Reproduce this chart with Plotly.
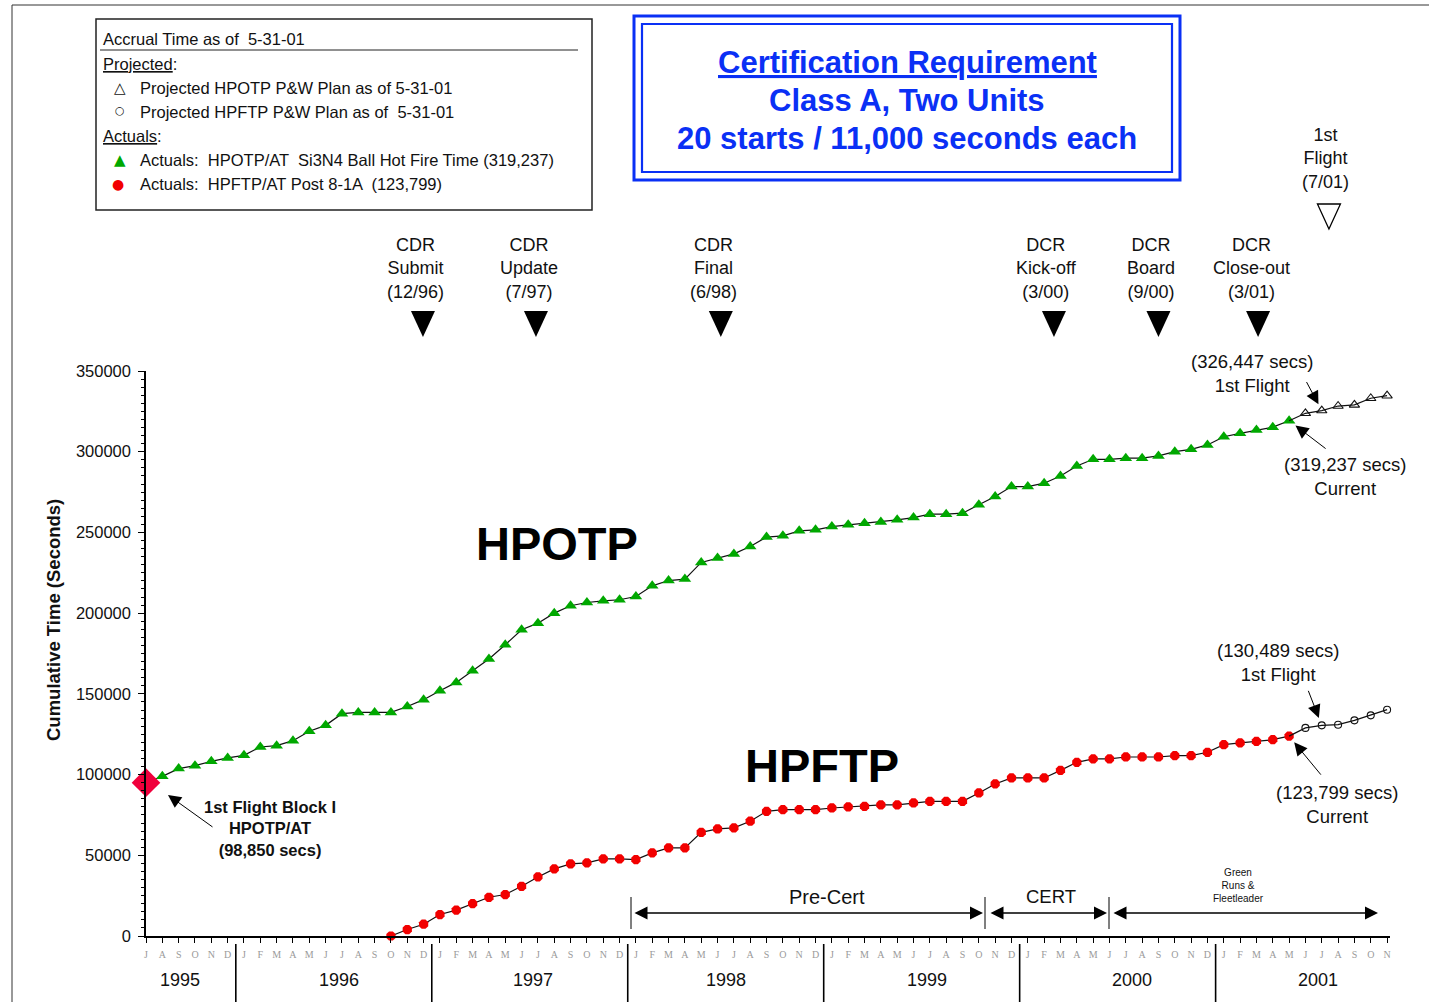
import plotly.graph_objects as go

# ---------------- data ----------------
month_letters = (['J', 'A', 'S', 'O', 'N', 'D'] +
                 ['J', 'F', 'M', 'A', 'M', 'J', 'J', 'A', 'S', 'O', 'N', 'D'] * 5 +
                 ['J', 'F', 'M', 'A', 'M', 'J', 'J', 'A', 'S', 'O', 'N'])
month_index = list(range(len(month_letters)))          # 0 = Jul 1995
years = ['1995', '1996', '1997', '1998', '1999', '2000', '2001']
year_label_month = [2.1, 11.8, 23.7, 35.5, 47.8, 60.4, 71.8]
year_boundaries = [5.5, 17.5, 29.5, 41.5, 53.5, 65.5]

start_month = 0
start_value = 95000  # 1st Flight Block I HPOTP/AT

hpotp_months = list(range(1, 71))
hpotp_actual_k = [98.9, 103.7, 105.5, 108.2, 110.3, 111.9, 117.1, 117.9, 121.0, 126.8,
                  130.5, 137.7, 138.5, 138.5, 138.5, 142.2, 146.4, 151.9, 157.1, 164.3,
                  171.6, 180.4, 189.7, 193.8, 200.0, 204.6, 206.6, 207.6, 208.3, 210.3,
                  216.9, 220.2, 221.1, 231.4, 234.1, 236.7, 241.3, 247.1, 247.9, 251.0,
                  251.6, 253.6, 254.7, 255.7, 256.5, 257.8, 259.2, 261.3, 261.3, 261.9,
                  267.1, 272.2, 278.4, 278.4, 280.5, 285.0, 291.2, 295.3, 295.3, 296.0,
                  296.0, 297.4, 300.0, 301.5, 304.2, 309.3, 311.4, 313.5, 315.2, 319.2]
hpotp_proj_months = [71, 72, 73, 74, 75, 76]
hpotp_proj_k = [323.8, 325.5, 328.3, 329.0, 333.1, 334.7]

hpftp_months = list(range(15, 71))
hpftp_actual_k = [0.0, 4.0, 7.3, 13.3, 16.0, 20.1, 24.0, 25.7, 30.8, 36.6,
                  41.6, 44.7, 45.3, 47.8, 47.8, 47.3, 51.5, 54.6, 54.6, 64.2,
                  66.3, 67.0, 71.1, 77.2, 78.3, 78.3, 78.3, 79.3, 80.0, 80.3,
                  81.2, 81.2, 82.4, 83.4, 83.4, 83.4, 88.6, 94.2, 97.9, 97.9,
                  97.9, 102.6, 107.6, 109.7, 109.7, 110.9, 110.9, 110.9, 111.7, 111.7,
                  113.8, 118.5, 119.6, 120.6, 121.6, 123.8]
hpftp_proj_months = [71, 72, 73, 74, 75, 76]
hpftp_proj_k = [128.9, 130.5, 130.9, 133.6, 136.7, 140.2]

milestone_labels = ['CDR<br>Submit<br>(12/96)', 'CDR<br>Update<br>(7/97)', 'CDR<br>Final<br>(6/98)',
                    'DCR<br>Kick-off<br>(3/00)', 'DCR<br>Board<br>(9/00)', 'DCR<br>Close-out<br>(3/01)']
milestone_month = [16.96, 23.88, 35.2, 55.6, 62.0, 68.1]
first_flight_month = 72.44

hpotp_actual = [v * 1000 for v in hpotp_actual_k]
hpotp_proj = [v * 1000 for v in hpotp_proj_k]
hpftp_actual = [v * 1000 for v in hpftp_actual_k]
hpftp_proj = [v * 1000 for v in hpftp_proj_k]

# ---------------- geometry helpers (layout only) ----------------
L, R_M, T_M, B_M = 146, 39, 371, 66
W, H = 1429, 1002
PW, PH = W - L - R_M, H - T_M - B_M
PX_PER_MONTH = 16.33
XMAX = PW / PX_PER_MONTH
YMAX = 350000


def xp(px):  # pixel -> paper x
    return (px - L) / PW


def yp(py):  # pixel -> paper y
    return (H - B_M - py) / PH


def xd(px):  # pixel -> data x
    return (px - L) / PW * XMAX


def yd(py):  # pixel -> data y
    return (H - B_M - py) / PH * YMAX


def mp(m):  # month -> pixel x
    return L + m * PX_PER_MONTH


FONT = 'Liberation Sans, Arial, sans-serif'
GREEN = '#00a800'
RED = '#f20000'
BLUE = '#0a30f5'

fig = go.Figure()

fig.add_trace(go.Scatter(x=[start_month] + hpotp_months, y=[start_value] + hpotp_actual,
                         mode='lines', line=dict(color='#111', width=1.2), cliponaxis=False,
                         hoverinfo='skip'))
fig.add_trace(go.Scatter(x=hpotp_months, y=hpotp_actual, mode='markers',
                         marker=dict(symbol='triangle-up', size=11, color=GREEN, line=dict(width=0)),
                         cliponaxis=False))
fig.add_trace(go.Scatter(x=[hpotp_months[-1]] + hpotp_proj_months, y=[hpotp_actual[-1]] + hpotp_proj,
                         mode='lines', line=dict(color='#111', width=1.2), cliponaxis=False))
fig.add_trace(go.Scatter(x=hpotp_proj_months, y=hpotp_proj, mode='markers',
                         marker=dict(symbol='triangle-up-open', size=9, color='#111', line=dict(width=1.1)),
                         cliponaxis=False))

fig.add_trace(go.Scatter(x=hpftp_months, y=hpftp_actual, mode='lines+markers',
                         line=dict(color='#111', width=1.2),
                         marker=dict(symbol='octagon', size=10, color=RED, line=dict(width=0)),
                         cliponaxis=False))
fig.add_trace(go.Scatter(x=[hpftp_months[-1]] + hpftp_proj_months, y=[hpftp_actual[-1]] + hpftp_proj,
                         mode='lines', line=dict(color='#111', width=1.2), cliponaxis=False))
fig.add_trace(go.Scatter(x=hpftp_proj_months, y=hpftp_proj, mode='markers',
                         marker=dict(symbol='circle-open', size=7, color='#111', line=dict(width=1.1)),
                         cliponaxis=False))

fig.add_trace(go.Scatter(x=[start_month], y=[start_value], mode='markers',
                         marker=dict(symbol='diamond', size=22, color='#f0003c', line=dict(width=0)),
                         cliponaxis=False))

ann = []
shapes = []


def txt(px, py, text, size, color='#111', family=FONT, xanchor='center', **kw):
    ann.append(dict(x=xp(px), y=yp(py), xref='paper', yref='paper', text=text, showarrow=False,
                    xanchor=xanchor, yanchor='middle', font=dict(family=family, size=size, color=color),
                    **kw))


def tri_down(cx, top, bottom, hw, fill, lw=0):
    path = 'M {} {} L {} {} L {} {} Z'.format(xp(cx - hw), yp(top), xp(cx + hw), yp(top), xp(cx), yp(bottom))
    shapes.append(dict(type='path', xref='paper', yref='paper', path=path, fillcolor=fill,
                       line=dict(color='black', width=lw)))


# milestones
for lab, m in zip(milestone_labels, milestone_month):
    cx = mp(m)
    tri_down(cx, 311, 337, 12, 'black', 0)
    txt(cx - 7, 268, lab, 18, align='center')
tri_down(mp(first_flight_month), 204, 229, 11.5, 'white', 1.3)
txt(mp(first_flight_month) - 3, 159, '1st<br>Flight<br>(7/01)', 18, align='center')

# big series labels
txt(557, 543, '<b>HPOTP</b>', 47, color='black')
txt(822, 765, '<b>HPFTP</b>', 47, color='black')

# start annotation
txt(270, 828, '<b>1st Flight Block I<br>HPOTP/AT<br>(98,850 secs)</b>', 16.5, align='center')
ann.append(dict(x=xd(168), y=yd(795), xref='x', yref='y', text='', showarrow=True, ax=46, ay=33,
                arrowhead=2, arrowsize=2.6, arrowwidth=1, arrowcolor='black'))

# right-side callouts
txt(1252, 373, '(326,447 secs)<br>1st Flight', 18.5, align='center')
ann.append(dict(x=hpotp_proj_months[1], y=hpotp_proj[1], xref='x', yref='y', text='', showarrow=True,
                ax=-16, ay=-30, standoff=7, arrowhead=2, arrowsize=2.6, arrowwidth=1, arrowcolor='black'))
txt(1345, 476, '(319,237 secs)<br>Current', 18.5, align='center')
ann.append(dict(x=hpotp_months[-1], y=hpotp_actual[-1], xref='x', yref='y', text='', showarrow=True,
                ax=38, ay=29, standoff=8, arrowhead=2, arrowsize=2.6, arrowwidth=1, arrowcolor='black'))
txt(1278, 662, '(130,489 secs)<br>1st Flight', 18.5, align='center')
ann.append(dict(x=hpftp_proj_months[1], y=hpftp_proj[1], xref='x', yref='y', text='', showarrow=True,
                ax=-14, ay=-36, standoff=8, arrowhead=2, arrowsize=2.6, arrowwidth=1, arrowcolor='black'))
txt(1337, 804, '(123,799 secs)<br>Current', 18.5, align='center')
ann.append(dict(x=hpftp_months[-1], y=hpftp_actual[-1], xref='x', yref='y', text='', showarrow=True,
                ax=33, ay=40, standoff=8, arrowhead=2, arrowsize=2.6, arrowwidth=1, arrowcolor='black'))

# phase arrows
phase_y = yd(913)
for (a, b) in [(633, 983), (989, 1107), (1112, 1378)]:
    ann.append(dict(x=xd(b), y=phase_y, ax=xd(a), ay=phase_y, xref='x', yref='y', axref='x', ayref='y',
                    text='', showarrow=True, arrowside='end+start', arrowhead=2, arrowsize=2.0,
                    arrowwidth=1.3, arrowcolor='black'))
for bx in [631, 985, 1109]:
    shapes.append(dict(type='line', xref='paper', yref='paper', x0=xp(bx), x1=xp(bx), y0=yp(897), y1=yp(929),
                       line=dict(color='black', width=1)))
txt(827, 897, 'Pre-Cert', 20)
txt(1051, 896, 'CERT', 18.5)
txt(1238, 885, 'Green<br>Runs &amp;<br>Fleetleader', 10, align='center')

# year labels and separators
for yr, m in zip(years, year_label_month):
    txt(mp(m), 980, yr, 18)
for m in year_boundaries:
    shapes.append(dict(type='line', xref='paper', yref='paper', x0=xp(mp(m)), x1=xp(mp(m)),
                       y0=yp(944), y1=yp(1002), line=dict(color='black', width=1.6)))

# y-axis title
txt(53, 620, '<b>Cumulative Time (Seconds)</b>', 18.5, textangle=-90)

# title box
shapes.append(dict(type='rect', xref='paper', yref='paper', x0=xp(634), x1=xp(1180), y0=yp(16), y1=yp(180),
                   line=dict(color=BLUE, width=3)))
shapes.append(dict(type='rect', xref='paper', yref='paper', x0=xp(642), x1=xp(1172), y0=yp(24), y1=yp(172),
                   line=dict(color=BLUE, width=2.2)))
txt(907, 62, '<b><u>Certification Requirement</u></b>', 31, color=BLUE)
txt(907, 101, '<b>Class A, Two Units</b>', 31, color=BLUE)
txt(907, 139, '<b>20 starts / 11,000 seconds each</b>', 31, color=BLUE)

# legend box
shapes.append(dict(type='rect', xref='paper', yref='paper', x0=xp(96), x1=xp(592), y0=yp(19), y1=yp(210),
                   line=dict(color='#222', width=1.5)))
shapes.append(dict(type='line', xref='paper', yref='paper', x0=xp(100), x1=xp(578), y0=yp(50), y1=yp(50),
                   line=dict(color='#222', width=1)))
leg_items = [
    (101, 39, 'Accrual Time as of  5-31-01'),
    (101, 64, '<u>Projected</u>:'),
    (138, 88, 'Projected HPOTP P&amp;W Plan as of 5-31-01'),
    (138, 112, 'Projected HPFTP P&amp;W Plan as of  5-31-01'),
    (101, 136, '<u>Actuals</u>:'),
    (138, 160, 'Actuals:  HPOTP/AT  Si3N4 Ball Hot Fire Time (319,237)'),
    (138, 184, 'Actuals:  HPFTP/AT Post 8-1A  (123,799)'),
]
for x0, y0, t in leg_items:
    txt(x0, y0, t, 16.5, xanchor='left')
leg_syms = [(120, 88, '△', '#111', 15), (120, 110, '○', '#111', 11),
            (120, 160, '▲', GREEN, 15), (118, 184, '●', RED, 14)]
for x0, y0, s, c, sz in leg_syms:
    txt(x0, y0, s, sz, color=c, family='DejaVu Sans')

# page frame
shapes.append(dict(type='line', xref='paper', yref='paper', x0=xp(12), x1=xp(1429), y0=yp(5), y1=yp(5),
                   line=dict(color='#333', width=1)))
shapes.append(dict(type='line', xref='paper', yref='paper', x0=xp(12), x1=xp(12), y0=yp(5), y1=yp(1002),
                   line=dict(color='#333', width=1)))

fig.update_layout(
    width=W, height=H, showlegend=False,
    margin=dict(l=L, r=R_M, t=T_M, b=B_M),
    paper_bgcolor='white', plot_bgcolor='white',
    font=dict(family=FONT, color='#111'),
    annotations=ann, shapes=shapes,
    xaxis=dict(range=[0, XMAX], tickmode='array', tickvals=month_index, ticktext=month_letters,
               ticks='outside', ticklen=5, tickcolor='black', tickwidth=1,
               showline=True, linecolor='black', linewidth=2, showgrid=False, zeroline=False,
               tickfont=dict(family='Liberation Serif, Times New Roman, serif', size=10, color='#9a9a9a'),
               ticklabelstandoff=3),
    yaxis=dict(range=[0, YMAX], tickmode='linear', tick0=0, dtick=50000, tickformat='d',
               ticks='outside', ticklen=6, tickcolor='black', tickwidth=1,
               minor=dict(dtick=5000, ticks='outside', ticklen=3, tickcolor='black'),
               showline=True, linecolor='black', linewidth=1.5, showgrid=False, zeroline=False,
               tickfont=dict(family=FONT, size=16.5, color='#111'), ticklabelstandoff=4),
)

fig.write_html('out.html', config={'displayModeBar': False},
               post_script="document.body.style.margin='0';document.body.style.overflow='hidden';")
